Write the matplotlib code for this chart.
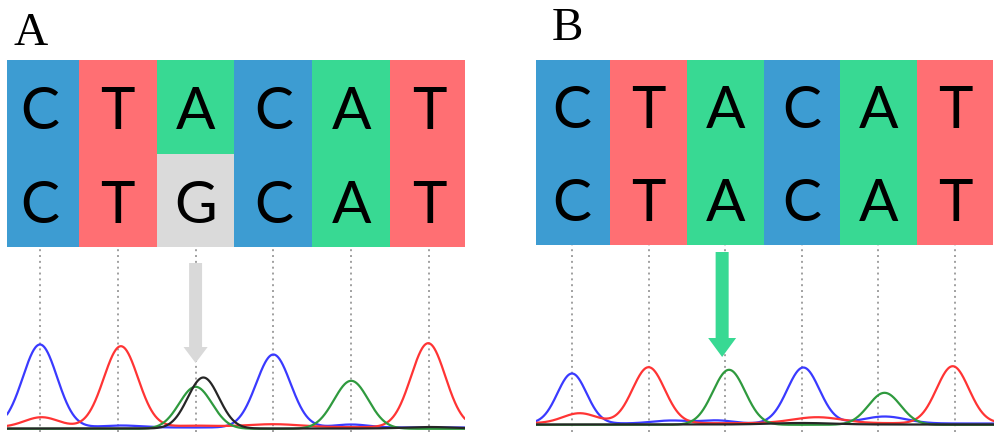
import numpy as np
import matplotlib
matplotlib.use("Agg")
import matplotlib.pyplot as plt
from matplotlib.patches import FancyArrow

# ---------------- data ----------------
ref_seq = ["C", "T", "A", "C", "A", "T"]
mut_seq_A = ["C", "T", "G", "C", "A", "T"]
mut_seq_B = ["C", "T", "A", "C", "A", "T"]
panel_labels = ["A", "B"]

# chromatogram peaks: (position in base index, height, width)
peaks_A = {
    "blue":  [(0.00, 83, 0.22), (3.00, 73, 0.22), (1.05, 2, 0.25), (4.00, 3, 0.22)],
    "red":   [(1.04, 81, 0.22), (4.99, 84, 0.22), (0.02, 10, 0.22), (3.00, 3, 0.35), (2.0, 1.5, 0.3)],
    "green": [(2.00, 42, 0.21), (4.00, 48, 0.22)],
    "black": [(2.10, 51, 0.20), (5.0, 1.5, 0.3)],
}
peaks_B = {
    "blue":  [(0.00, 50, 0.19), (3.02, 56, 0.21), (1.30, 3, 0.25), (1.90, 3, 0.2), (4.08, 7, 0.28)],
    "red":   [(1.00, 56, 0.21), (4.97, 57, 0.21), (0.10, 10, 0.22), (3.20, 6, 0.32)],
    "green": [(2.05, 55, 0.21), (4.08, 32, 0.21)],
    "black": [(3.0, 1.5, 0.4)],
}
baseline_offsets = {"blue": 0.5, "red": 0.8, "green": -0.8, "black": -0.5}

# ---------------- style ----------------
cell_colors = {"A": "#38d993", "C": "#3d9cd2", "T": "#ff6f73", "G": "#dadada"}
trace_colors = {"blue": "#3a3aff", "red": "#ff3434", "green": "#2f9a3e", "black": "#262626"}
arrow_colors = {"A": "#d9d9d9", "B": "#38d993"}

W, H = 999, 432
fig = plt.figure(figsize=(W / 100, H / 100), dpi=100)


def px_axes(x0, y0, x1, y1):
    ax = fig.add_axes([x0 / W, 1 - y1 / H, (x1 - x0) / W, (y1 - y0) / H])
    ax.set_axis_off()
    return ax


def draw_panel(al_box, ch_box, xlim, ylim, top, bottom, peaks, arrow, acolor):
    ax = px_axes(*al_box)
    ax.set_xlim(*xlim)
    ax.set_ylim(2, 0)
    for row, seq in enumerate([top, bottom]):
        for i, b in enumerate(seq):
            ax.bar(i, 1, bottom=row, width=1.0, color=cell_colors[b],
                   edgecolor="none", align="center")
            ax.text(i, row + 0.74, b, ha="center", va="baseline",
                    fontsize=42, family="Lato", color="black")

    cx = px_axes(*ch_box)
    cx.set_xlim(*xlim)
    cx.set_ylim(*ylim)
    for i in range(len(top)):
        cx.axvline(i, color="#a0a0a0", lw=1.4, ls=(0, (1, 2)), zorder=1)
    x = np.linspace(xlim[0], xlim[1], 1200)
    for name in ["blue", "red", "green", "black"]:
        y = np.full_like(x, baseline_offsets[name])
        for (mu, h, s) in peaks[name]:
            y += h * np.exp(-0.5 * ((x - mu) / s) ** 2)
        cx.plot(x, y, color=trace_colors[name], lw=1.6, zorder=2,
                solid_capstyle="round")
    ax_x, y_top, y_tip, w, hw, hl = arrow
    cx.add_patch(FancyArrow(ax_x, y_top, 0, y_tip - y_top, width=w,
                            head_width=hw, head_length=hl,
                            length_includes_head=True, color=acolor,
                            lw=0, zorder=3))


draw_panel((7, 60, 465, 247), (7, 247, 465, 432), (-0.424, 5.463), (-4, 181),
           ref_seq, mut_seq_A, peaks_A, (2.0, 165, 65, 0.167, 0.31, 16),
           arrow_colors["A"])
draw_panel((536, 60, 994, 245), (536, 245, 994, 432), (-0.470, 5.509), (-8, 179),
           ref_seq, mut_seq_B, peaks_B, (1.96, 172, 67, 0.17, 0.365, 19),
           arrow_colors["B"])

fig.text(13 / W, 1 - 45 / H, panel_labels[0], family="Liberation Serif",
         fontsize=34, va="baseline", ha="left")
fig.text(552 / W, 1 - 40 / H, panel_labels[1], family="Liberation Serif",
         fontsize=34, va="baseline", ha="left")

fig.savefig("out.png", dpi=100, facecolor="white")
